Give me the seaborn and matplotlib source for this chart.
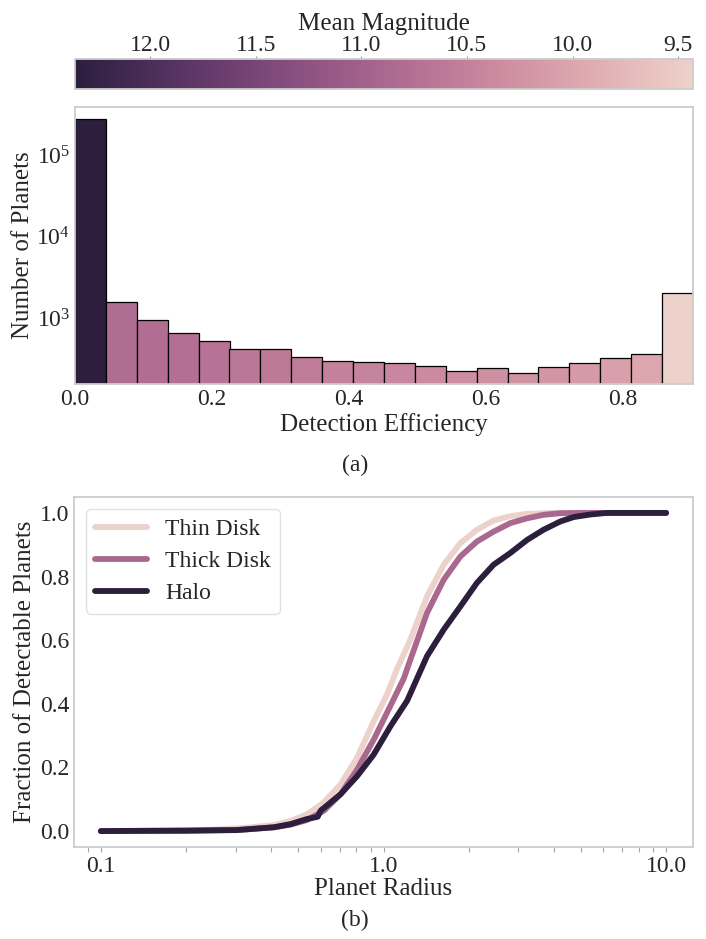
import numpy as np
import pandas as pd
import matplotlib
matplotlib.use("Agg")
import matplotlib.pyplot as plt
import matplotlib.ticker as mticker
import seaborn as sns

# ---------------- data ----------------
# Panel (a): histogram of detection efficiency (20 bins), counts and mean magnitude per bin
bin_edges = list(np.linspace(0.0, 0.902, 21))
bin_counts = [274000, 1560, 944, 660, 527, 420, 413, 335, 299, 291,
              281, 260, 224, 242, 213, 251, 282, 323, 359, 2010]
bin_mean_mag = [12.355, 10.80, 10.78, 10.75, 10.70, 10.65, 10.60, 10.58, 10.50, 10.46,
                10.42, 10.36, 10.32, 10.30, 10.26, 10.20, 10.15, 10.07, 10.00, 9.43]

# Panel (b): cumulative fraction of detectable planets vs planet radius
radius_thin = [0.1, 0.2, 0.313, 0.41, 0.469, 0.537, 0.615, 0.705, 0.807, 0.924, 1.03,
               1.117, 1.245, 1.426, 1.633, 1.87, 2.14, 2.45, 2.81, 3.22, 4.0, 10.0]
frac_thin = [0.0, 0.001, 0.009, 0.019, 0.032, 0.053, 0.09, 0.147, 0.231, 0.346, 0.43,
             0.51, 0.602, 0.738, 0.837, 0.905, 0.947, 0.976, 0.99, 0.997, 1.0, 1.0]

radius_thick = [0.1, 0.2, 0.313, 0.41, 0.469, 0.537, 0.615, 0.705, 0.807, 0.924, 1.08,
                1.18, 1.245, 1.426, 1.633, 1.87, 2.14, 2.45, 2.81, 3.22, 3.68, 4.22, 5.0, 10.0]
frac_thick = [0.0, 0.0, 0.004, 0.012, 0.02, 0.035, 0.064, 0.116, 0.194, 0.288, 0.41,
              0.48, 0.539, 0.686, 0.79, 0.863, 0.91, 0.941, 0.968, 0.983, 0.994, 0.999, 1.0, 1.0]

radius_halo = [0.1, 0.3, 0.41, 0.469, 0.537, 0.585, 0.599, 0.64, 0.705, 0.807, 0.924,
               1.059, 1.213, 1.33, 1.426, 1.633, 1.87, 2.14, 2.45, 2.81, 3.22, 3.68,
               4.22, 4.71, 5.39, 6.18, 10.0]
frac_halo = [0.0, 0.003, 0.012, 0.022, 0.038, 0.045, 0.064, 0.085, 0.116, 0.173, 0.241,
             0.33, 0.41, 0.49, 0.55, 0.633, 0.706, 0.78, 0.837, 0.874, 0.915, 0.947,
             0.973, 0.987, 0.995, 1.0, 1.0]

populations = ["Thin Disk", "Thick Disk", "Halo"]

hist_xticks = [0.0, 0.2, 0.4, 0.6, 0.8]
cbar_ticks = [12.0, 11.5, 11.0, 10.5, 10.0, 9.5]
frac_ticks = [0.0, 0.2, 0.4, 0.6, 0.8, 1.0]
radius_ticks = [0.1, 1.0, 10.0]

# ---------------- style ----------------
sns.set_style("white")
plt.rcParams["font.family"] = ["Liberation Serif", "DejaVu Serif"]
plt.rcParams["mathtext.fontset"] = "stix"
plt.rcParams["text.color"] = ".15"
plt.rcParams["axes.labelcolor"] = ".15"
plt.rcParams["xtick.color"] = ".15"
plt.rcParams["ytick.color"] = ".15"

TICK_FS = 17
LABEL_FS = 18

fig = plt.figure(figsize=(7.06, 9.39), dpi=100)
W, H = 706, 939

def rect(x0, x1, ytop, ybot):
    return [x0 / W, 1 - ybot / H, (x1 - x0) / W, (ybot - ytop) / H]

cax = fig.add_axes(rect(75, 693, 59, 89))
ax1 = fig.add_axes(rect(75, 693, 107, 384))
ax2 = fig.add_axes(rect(74, 693, 497, 847))

cmap = sns.cubehelix_palette(as_cmap=True)
norm = matplotlib.colors.Normalize(vmin=min(bin_mean_mag), vmax=max(bin_mean_mag))

# ---------------- panel (a) ----------------
centers = [0.5 * (a + b) for a, b in zip(bin_edges[:-1], bin_edges[1:])]
hist_df = pd.DataFrame({"eff": centers, "count": bin_counts})
sns.histplot(data=hist_df, x="eff", weights="count", bins=bin_edges, ax=ax1,
             edgecolor="black", linewidth=0.9, alpha=1.0)
for patch, m in zip(ax1.patches, bin_mean_mag):
    patch.set_facecolor(cmap(norm(m)))
ax1.set_yscale("log")
ax1.set_ylim(155, 3.88e5)
ax1.set_xlim(bin_edges[0], bin_edges[-1])
ax1.set_xticks(hist_xticks)
ax1.xaxis.set_major_formatter(mticker.FormatStrFormatter("%.1f"))
ax1.yaxis.set_major_locator(mticker.FixedLocator([1e3, 1e4, 1e5]))
ax1.yaxis.set_major_formatter(mticker.LogFormatterSciNotation())
ax1.yaxis.set_minor_locator(mticker.NullLocator())
ax1.tick_params(axis="both", which="both", length=0, labelsize=TICK_FS)
ax1.set_xlabel("Detection Efficiency", fontsize=LABEL_FS, labelpad=2)
ax1.set_ylabel("Number of Planets", fontsize=LABEL_FS, labelpad=2)
for sp in ax1.spines.values():
    sp.set_visible(True)
    sp.set_color(".8")
    sp.set_linewidth(1.3)

# colorbar
sm = matplotlib.cm.ScalarMappable(cmap=cmap, norm=norm)
cb = fig.colorbar(sm, cax=cax, orientation="horizontal")
cax.invert_xaxis()
cax.xaxis.set_ticks_position("top")
cax.xaxis.set_label_position("top")
cb.set_ticks(cbar_ticks)
cax.xaxis.set_major_formatter(mticker.FormatStrFormatter("%.1f"))
cax.tick_params(axis="x", which="major", top=True, bottom=False, length=2.5, width=0.8,
                color=".6", labelsize=TICK_FS, pad=0)
cax.tick_params(axis="x", which="minor", length=0)
cb.set_label("Mean Magnitude", fontsize=LABEL_FS, labelpad=3)
cb.outline.set_edgecolor(".8")
cb.outline.set_linewidth(1.3)

fig.text(0.503, 1 - 465 / H, "(a)", ha="center", va="center", fontsize=17)

# ---------------- panel (b) ----------------
long_df = pd.DataFrame({
    "radius": radius_thin + radius_thick + radius_halo,
    "frac": frac_thin + frac_thick + frac_halo,
    "population": [populations[0]] * len(radius_thin) + [populations[1]] * len(radius_thick)
                  + [populations[2]] * len(radius_halo),
})
palette = sns.cubehelix_palette(3)
sns.lineplot(data=long_df, x="radius", y="frac", hue="population",
             hue_order=populations, palette=palette, linewidth=4.2, ax=ax2)
for ln in ax2.get_lines():
    ln.set_solid_capstyle("round")
    ln.set_solid_joinstyle("round")
ax2.set_xscale("log")
ax2.set_xlim(10 ** -1.095, 10 ** 1.095)
ax2.set_ylim(-0.05, 1.05)
ax2.set_xticks(radius_ticks)
ax2.xaxis.set_major_formatter(mticker.FormatStrFormatter("%.1f"))
ax2.xaxis.set_minor_formatter(mticker.NullFormatter())
ax2.set_yticks(frac_ticks)
ax2.yaxis.set_major_formatter(mticker.FormatStrFormatter("%.1f"))
ax2.tick_params(axis="x", which="both", bottom=True, length=3.5, width=0.8,
                color=".65", labelsize=TICK_FS, pad=3)
ax2.tick_params(axis="y", which="both", left=False, length=0, labelsize=TICK_FS)
ax2.set_xlabel("Planet Radius", fontsize=LABEL_FS, labelpad=1)
ax2.set_ylabel("Fraction of Detectable Planets", fontsize=LABEL_FS, labelpad=3)
for sp in ax2.spines.values():
    sp.set_visible(True)
    sp.set_color(".8")
    sp.set_linewidth(1.3)

handles, labels = ax2.get_legend_handles_labels()
leg = ax2.legend(handles, labels, loc="upper left", fontsize=17, frameon=True,
                 handlelength=2.2, handletextpad=0.75, borderpad=0.4,
                 labelspacing=0.45)
leg.get_frame().set_edgecolor(".85")
for lh in leg.get_lines():
    lh.set_linewidth(4.2)
    lh.set_solid_capstyle("round")

fig.text(0.503, 1 - 920 / H, "(b)", ha="center", va="center", fontsize=17)

fig.savefig("out.png", dpi=100)
